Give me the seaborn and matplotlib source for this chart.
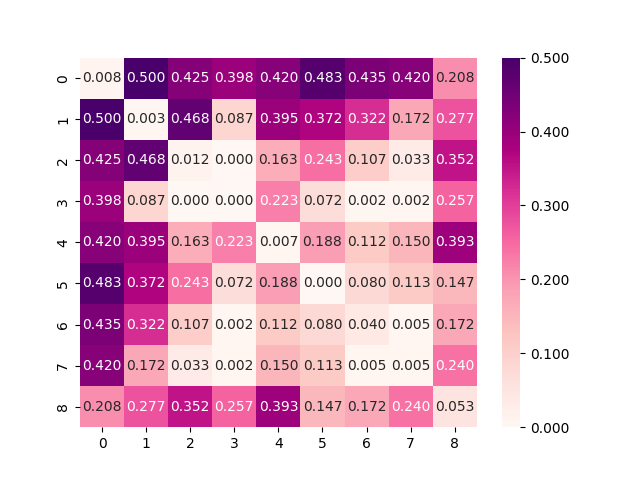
import seaborn as sns
import matplotlib.pyplot as plt
import numpy as np

labels = [str(i) for i in range(9)]

row0 = [0.008, 0.500, 0.425, 0.398, 0.420, 0.483, 0.435, 0.420, 0.208]
row1 = [0.500, 0.003, 0.468, 0.087, 0.395, 0.372, 0.322, 0.172, 0.277]
row2 = [0.425, 0.468, 0.012, 0.000, 0.163, 0.243, 0.107, 0.033, 0.352]
row3 = [0.398, 0.087, 0.000, 0.000, 0.223, 0.072, 0.002, 0.002, 0.257]
row4 = [0.420, 0.395, 0.163, 0.223, 0.007, 0.188, 0.112, 0.150, 0.393]
row5 = [0.483, 0.372, 0.243, 0.072, 0.188, 0.000, 0.080, 0.113, 0.147]
row6 = [0.435, 0.322, 0.107, 0.002, 0.112, 0.080, 0.040, 0.005, 0.172]
row7 = [0.420, 0.172, 0.033, 0.002, 0.150, 0.113, 0.005, 0.005, 0.240]
row8 = [0.208, 0.277, 0.352, 0.257, 0.393, 0.147, 0.172, 0.240, 0.053]

data = np.array([row0, row1, row2, row3, row4, row5, row6, row7, row8])

fig, ax = plt.subplots(figsize=(6.4, 4.8), dpi=100)
sns.heatmap(data, ax=ax, cmap='RdPu', vmin=0, vmax=0.5, annot=True, fmt='.3f',
            xticklabels=labels, yticklabels=labels,
            cbar_kws={'format': '%.3f'})

fig.savefig("out.png")
